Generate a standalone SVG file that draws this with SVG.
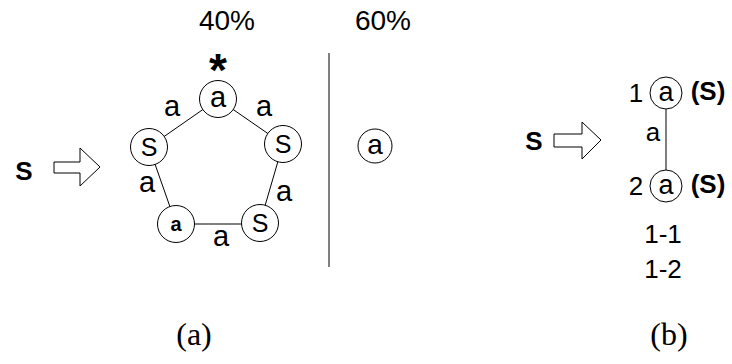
<svg xmlns="http://www.w3.org/2000/svg" width="732" height="364" viewBox="0 0 732 364">
<style>
.t{font-family:"Liberation Sans",Arial,sans-serif;fill:#000;text-anchor:middle}
.b{font-weight:bold}
.c{fill:#fff;stroke:#000;stroke-width:1}
.e{stroke:#000;stroke-width:1;fill:none}
.arr{fill:#fff;stroke:#000;stroke-width:1}
.cap{font-family:"Liberation Serif","Times New Roman",serif;font-size:32px;fill:#000;text-anchor:middle}
.el{font-size:29px}
</style>
<rect width="732" height="364" fill="#fff"/>
<g id="labels">
<text class="t" x="227" y="30" font-size="28">40%</text>
<text class="t" x="383" y="30" font-size="28">60%</text>
<text class="t b" x="218" y="86" font-size="46">*</text>
<text class="cap" x="194" y="345">(a)</text>
<text class="cap" x="669" y="345">(b)</text>
</g>
<g id="connectors">
<line class="e" x1="218" y1="99" x2="149" y2="147"/>
<line class="e" x1="218" y1="99" x2="283" y2="144"/>
<line class="e" x1="149" y1="147" x2="176" y2="224"/>
<line class="e" x1="283" y1="144" x2="260" y2="223"/>
<line class="e" x1="176" y1="224" x2="260" y2="224"/>
<line class="e" x1="329" y1="53" x2="329" y2="267"/>
<line class="e" x1="666" y1="93" x2="666" y2="186"/>
</g>
<g id="edge-labels">
<text class="t el" x="172" y="116">a</text>
<text class="t el" x="264" y="116">a</text>
<text class="t el" x="147" y="192">a</text>
<text class="t el" x="284" y="201">a</text>
<text class="t el" x="221" y="246">a</text>
<text class="t" x="653" y="141" font-size="26">a</text>
</g>
<g id="arrow-a">
<text class="t b" x="24" y="180" font-size="26">S</text>
<polygon class="arr" points="54,162 80,162 80,148 100,167 80,186 80,173 54,173"/>
</g>
<g id="n-top"><circle class="c" cx="218" cy="99" r="18.5"/><text class="t" x="218" y="107" font-size="29">a</text></g>
<g id="n-left"><circle class="c" cx="149" cy="147" r="18.5"/><text class="t" x="149" y="156" font-size="25">S</text></g>
<g id="n-right"><circle class="c" cx="283" cy="144" r="18.5"/><text class="t" x="283" y="153" font-size="25">S</text></g>
<g id="n-bl"><circle class="c" cx="176" cy="224" r="18.5"/><text class="t b" x="176" y="231" font-size="20">a</text></g>
<g id="n-br"><circle class="c" cx="260" cy="223" r="18.5"/><text class="t" x="260" y="232" font-size="25">S</text></g>
<g id="n-single"><circle class="c" cx="375" cy="146" r="17"/><text class="t" x="375" y="154" font-size="28">a</text></g>
<g id="arrow-b">
<text class="t b" x="534" y="150" font-size="26">S</text>
<polygon class="arr" points="554,134 582,134 582,122 601,140 582,159 582,147 554,147"/>
</g>
<g id="n-b1"><circle class="c" cx="666" cy="93" r="16"/><text class="t" x="666" y="101" font-size="27">a</text>
<text class="t" x="636" y="102" font-size="26">1</text>
<text class="t b" x="708" y="100" font-size="26">(S)</text></g>
<g id="n-b2"><circle class="c" cx="666" cy="186" r="16"/><text class="t" x="666" y="194" font-size="27">a</text>
<text class="t" x="636" y="195" font-size="26">2</text>
<text class="t b" x="708" y="193" font-size="26">(S)</text></g>
<g id="seq">
<text class="t" x="663" y="243" font-size="26">1-1</text>
<text class="t" x="663" y="278" font-size="26">1-2</text>
</g>
</svg>
